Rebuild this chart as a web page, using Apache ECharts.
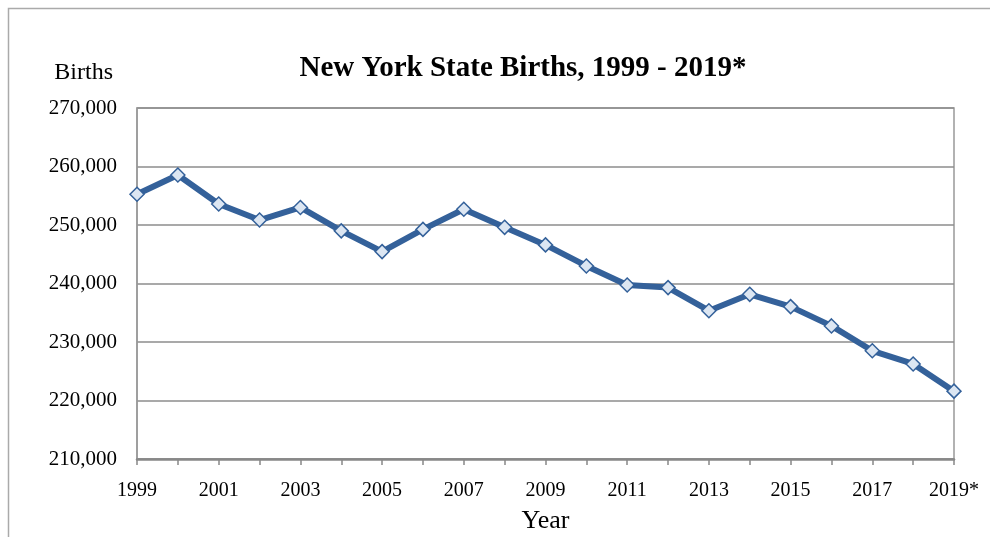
<!DOCTYPE html>
<html>
<head>
<meta charset="utf-8">
<script src="https://cdn.jsdelivr.net/npm/echarts@6/dist/echarts.min.js"></script>
<style>
  html, body { margin: 0; padding: 0; background: #fff; }
  #main { width: 990px; height: 537px; }
</style>
</head>
<body>
<div id="main"></div>
<script>
// years on the x axis (2019 is provisional)
const years = ['1999', '2000', '2001', '2002', '2003', '2004', '2005', '2006', '2007', '2008',
  '2009', '2010', '2011', '2012', '2013', '2014', '2015', '2016', '2017', '2018', '2019*'];
// births per year
const births = [255250, 258550, 253600, 250850, 253000, 249000, 245450, 249250, 252700, 249600,
  246600, 243000, 239750, 239300, 235350, 238150, 236050, 232750, 228500, 226250, 221600];
const yMin = 210000;
const yMax = 270000;
const yStep = 10000;

const font = 'Liberation Serif';
const chart = echarts.init(document.getElementById('main'));

chart.setOption({
  animation: false,
  backgroundColor: '#fff',
  title: {
    text: 'New York State Births, 1999 - 2019*',
    left: 518,
    top: 49,
    textAlign: 'center',
    textStyle: { fontFamily: font, fontSize: 29, fontWeight: 'bold', color: '#000' }
  },
  graphic: [{
    type: 'rect',
    shape: { x: 8.5, y: 8.5, width: 1200, height: 800 },
    style: { fill: 'none', stroke: '#aaa', lineWidth: 1.5 },
    silent: true
  }],
  grid: {
    left: 137, right: 36, top: 108, bottom: 78,
    outerBoundsMode: 'none',
    show: true, borderColor: '#999', borderWidth: 1.5
  },
  xAxis: {
    type: 'category',
    data: years,
    boundaryGap: false,
    name: 'Year',
    nameLocation: 'middle',
    nameGap: 49,
    nameTextStyle: { fontFamily: font, fontSize: 26, color: '#000' },
    axisLine: { lineStyle: { color: '#888', width: 2.5 } },
    axisTick: { show: true, interval: 0, length: 6, lineStyle: { color: '#888', width: 1.5 } },
    axisLabel: { interval: 1, margin: 22, fontFamily: font, fontSize: 20, color: '#000' },
    splitLine: { show: false }
  },
  yAxis: {
    type: 'value',
    min: yMin,
    max: yMax,
    interval: yStep,
    name: 'Births',
    nameLocation: 'end',
    nameGap: 23,
    nameTextStyle: { fontFamily: font, fontSize: 24, color: '#000', align: 'right', padding: [0, 24, 0, 0] },
    axisLine: { show: true, lineStyle: { color: '#999', width: 1.5 } },
    axisTick: { show: false },
    axisLabel: {
      margin: 20, fontFamily: font, fontSize: 21, color: '#000',
      formatter: v => v.toLocaleString('en-US')
    },
    splitLine: { lineStyle: { color: '#8c8c8c', width: 1.5 } }
  },
  series: [{
    type: 'line',
    data: births,
    symbol: 'diamond',
    symbolSize: 14,
    lineStyle: { color: '#34619a', width: 6 },
    itemStyle: { color: '#dce6f2', borderColor: '#34619a', borderWidth: 1.5 }
  }]
});
</script>
</body>
</html>
